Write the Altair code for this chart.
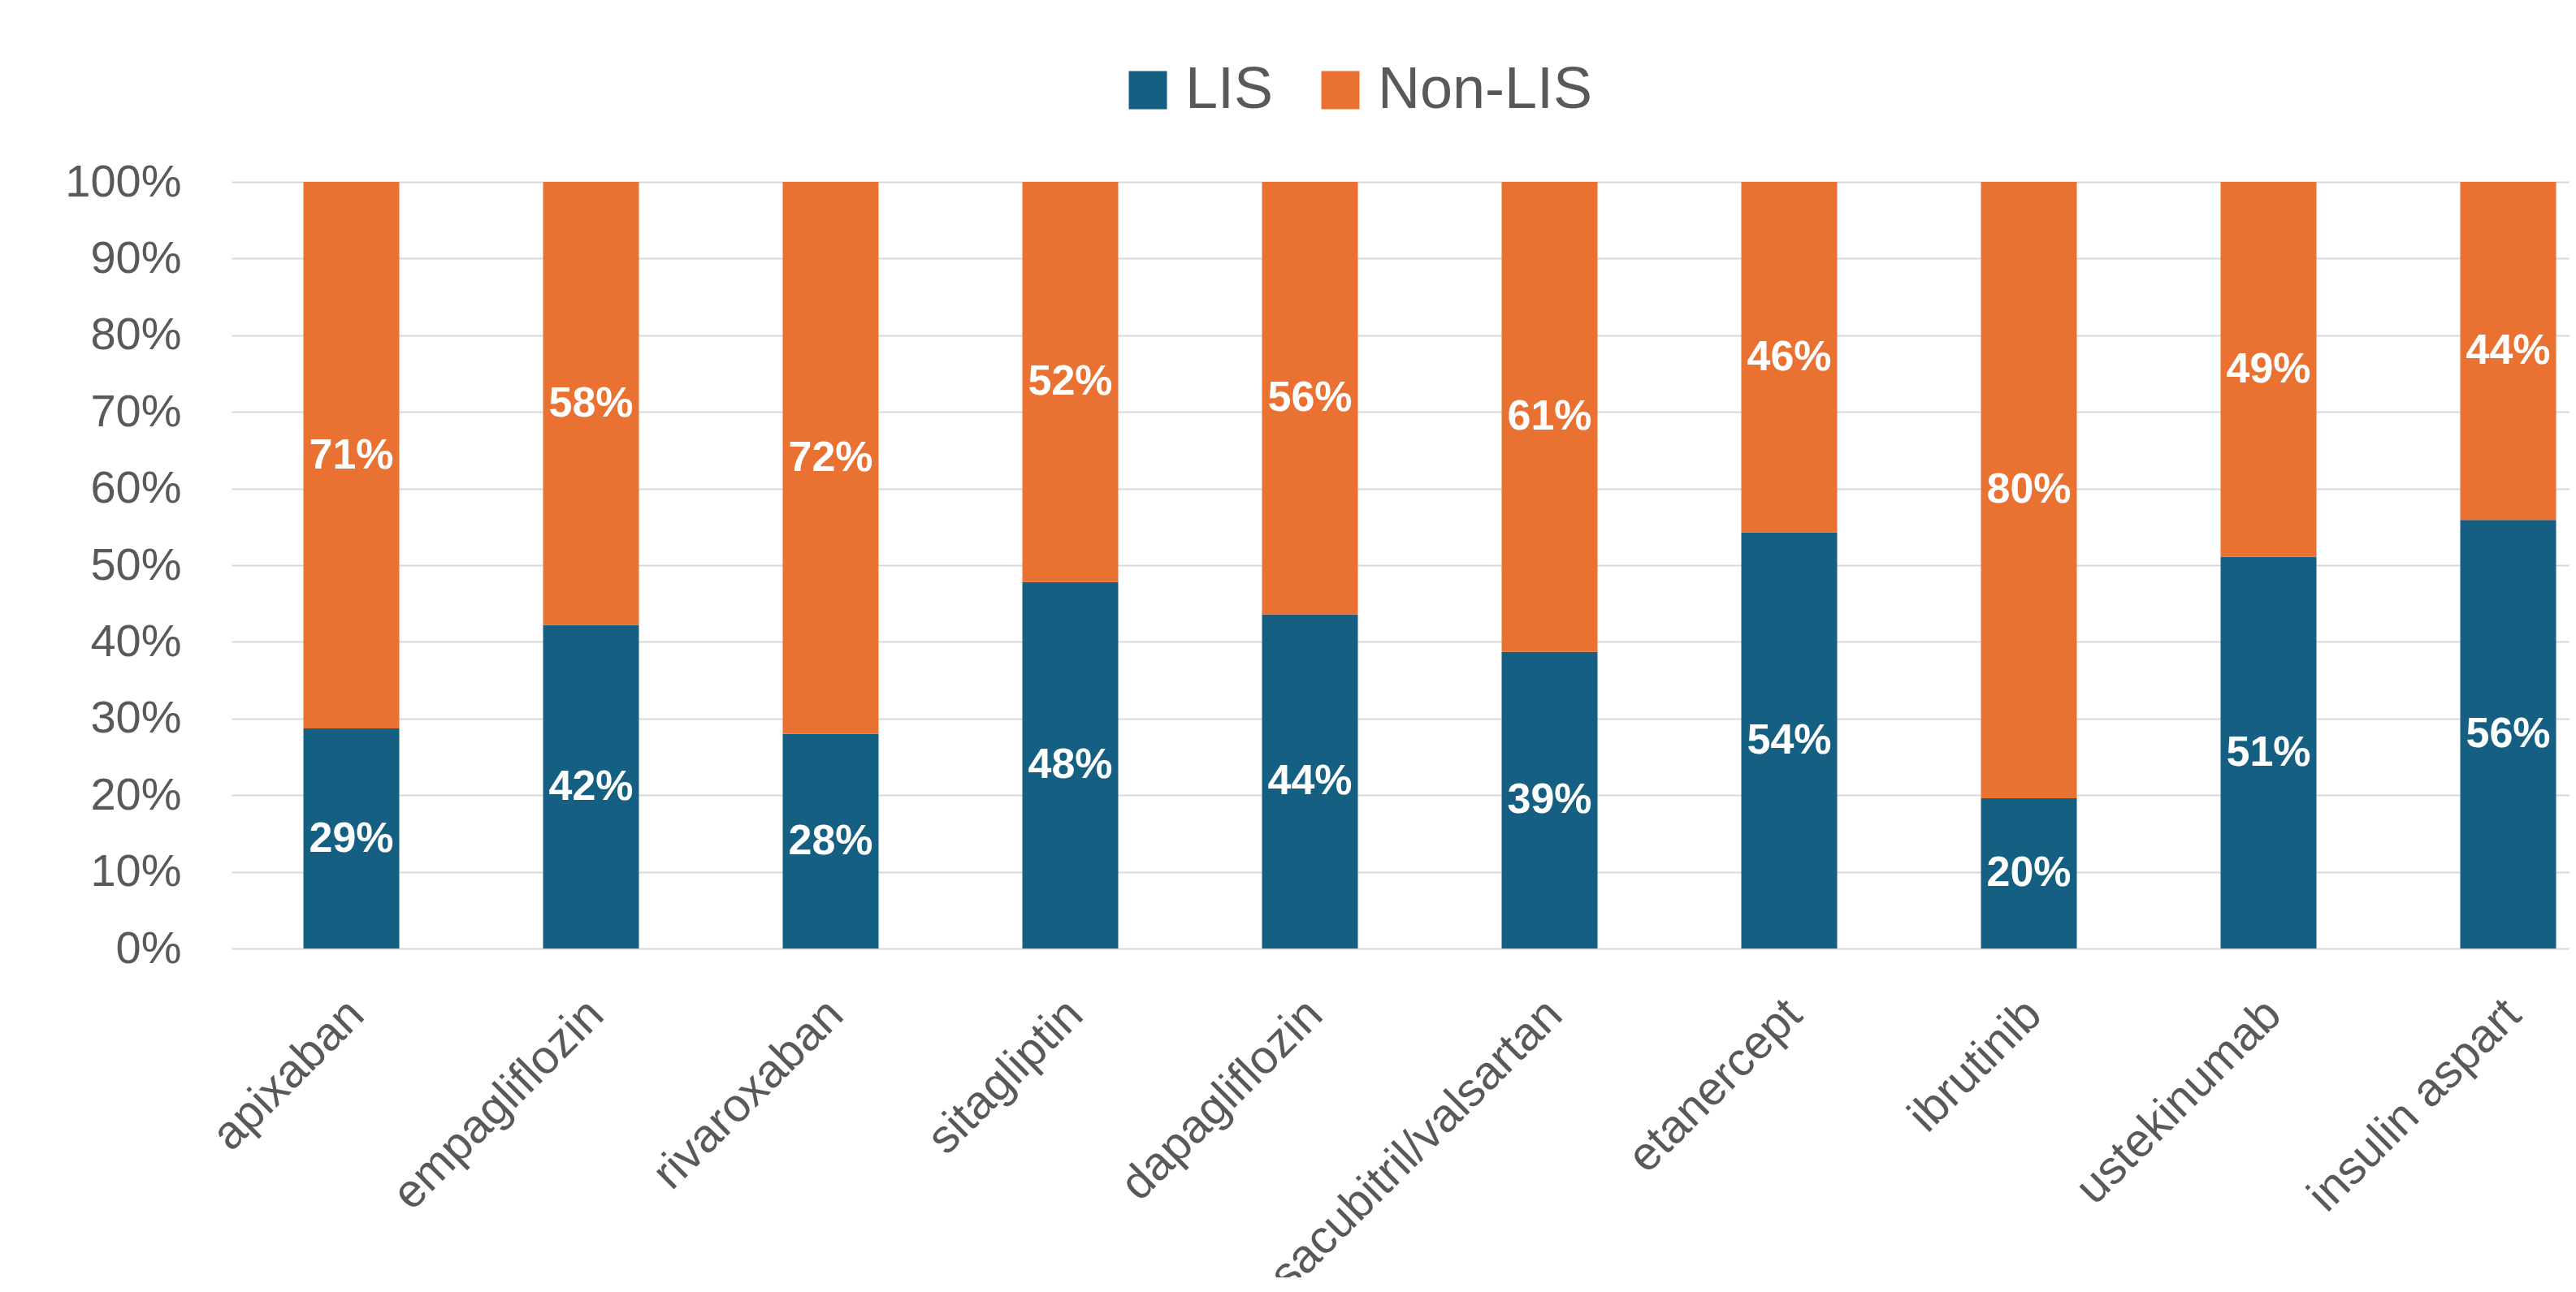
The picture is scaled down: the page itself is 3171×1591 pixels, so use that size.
import altair as alt
import pandas as pd

drugs = ["apixaban", "empagliflozin", "rivaroxaban", "sitagliptin", "dapagliflozin",
         "sacubitril/valsartan", "etanercept", "ibrutinib", "ustekinumab", "insulin aspart"]
lis = [0.287, 0.422, 0.280, 0.478, 0.436, 0.387, 0.543, 0.196, 0.511, 0.559]
non_lis = [0.713, 0.578, 0.720, 0.522, 0.564, 0.613, 0.457, 0.804, 0.489, 0.441]
groups = ["LIS", "Non-LIS"]
colors = ["#156082", "#E97132"]
y_ticks = [0.0, 0.1, 0.2, 0.3, 0.4, 0.5, 0.6, 0.7, 0.8, 0.9, 1.0]

rows = []
for i, d in enumerate(drugs):
    rows.append({"drug": d, "group": groups[0], "value": lis[i], "order": 0})
    rows.append({"drug": d, "group": groups[1], "value": non_lis[i], "order": 1})
df = pd.DataFrame(rows)

FONT = "Liberation Sans"
GREY = "#595959"

base = alt.Chart(df).transform_stack(
    stack="value", groupby=["drug"], as_=["v0", "v1"],
    sort=[alt.SortField("order", order="ascending")]
).transform_calculate(mid="(datum.v0 + datum.v1) / 2")

x_enc = alt.X(
    "drug:N", sort=drugs,
    scale=alt.Scale(range=[0, 2950], paddingInner=0.6, paddingOuter=0.3),
    axis=alt.Axis(title=None, labelAngle=-45, labelAlign="right", labelBaseline="top",
                  labelFontSize=58, labelColor=GREY, labelFont=FONT, labelPadding=52,
                  labelOffset=-14, ticks=False, domain=False, labelLimit=2000,
                  labelOverlap=False),
)

bars = base.mark_bar().encode(
    x=x_enc,
    y=alt.Y("v0:Q", scale=alt.Scale(domain=[0, 1]),
            axis=alt.Axis(title=None, values=y_ticks, format=".0%", labelFontSize=56,
                          labelColor=GREY, labelFont=FONT, labelPadding=62, ticks=False,
                          domain=False, gridColor="#d9d9d9", gridWidth=2)),
    y2="v1:Q",
    color=alt.Color("group:N", scale=alt.Scale(domain=groups, range=colors),
                    legend=alt.Legend(title=None, orient="none", direction="horizontal",
                                      legendX=1092, legendY=-149, symbolType="square",
                                      symbolSize=2209, symbolStrokeWidth=0,
                                      labelFontSize=72, labelColor=GREY, labelFont=FONT,
                                      labelOffset=10, columnPadding=46, labelLimit=2000)),
)

text = base.mark_text(color="white", fontWeight="bold", fontSize=52, font=FONT).encode(
    x=alt.X("drug:N", sort=drugs),
    y=alt.Y("mid:Q"),
    text=alt.Text("value:Q", format=".0%"),
)

chart = alt.layer(bars, text).properties(
    width=2878, height=944,
    autosize=alt.AutoSizeParams(type="none"),
    padding={"left": 277, "top": 216, "right": 0, "bottom": 405},
).configure_view(stroke=None)

chart.save("out.html", embed_options={"renderer": "svg", "actions": False})
